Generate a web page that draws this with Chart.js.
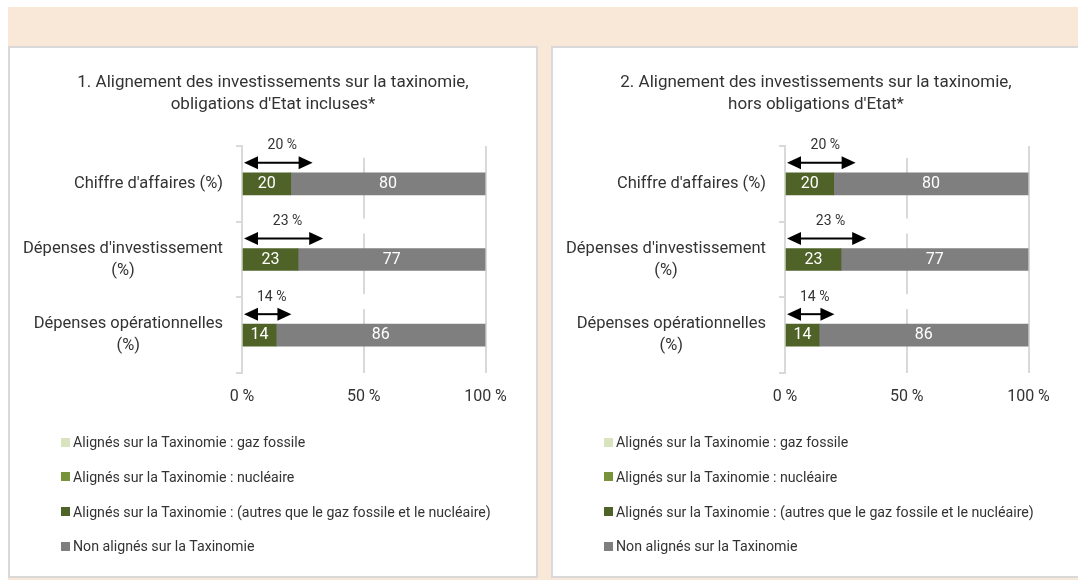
<!DOCTYPE html>
<html lang="fr">
<head>
<meta charset="utf-8">
<title>Alignement des investissements sur la taxinomie</title>
<script src="https://cdn.jsdelivr.net/npm/chart.js@4.4.1/dist/chart.umd.min.js"></script>
<style>
  html, body { margin: 0; padding: 0; background: #fff; }
  body { width: 1078px; height: 580px; position: relative; overflow: hidden;
         font-family: Roboto, "Liberation Sans", sans-serif; color: #333; }
  .band { position: absolute; left: 8px; top: 7px; right: 0; bottom: 0; background: #f9e8d8; }
  .panel { position: absolute; top: 46px; width: 530px; height: 532px; box-sizing: border-box;
           border: 2px solid #d9d9d9; background: #fff; }
  #panel1 { left: 8px; }
  #panel2 { left: 551px; }
  .panel canvas { position: absolute; left: 0; top: 0; }
  .title { position: absolute; left: 0; top: 22px; width: 526px; text-align: center;
           font-size: 17px; line-height: 22px; color: #333; }
  .legend { position: absolute; left: 51px; top: 377px; font-size: 14.2px; color: #333; }
  .legend .item { height: 34.67px; display: flex; align-items: center; white-space: nowrap; }
  .legend .box { width: 9px; height: 9px; margin-right: 3px; flex: none; }
</style>
</head>
<body>
<div class="band"></div>
<div class="panel" id="panel1">
  <canvas id="chart1" width="526" height="528"></canvas>
  <div class="title" id="title1"></div>
  <div class="legend" id="legend1"></div>
</div>
<div class="panel" id="panel2">
  <canvas id="chart2" width="526" height="528"></canvas>
  <div class="title" id="title2"></div>
  <div class="legend" id="legend2"></div>
</div>
<script>
const CATEGORIES = [
  ["Chiffre d'affaires (%)"],
  ["Dépenses d'investissement", '(%)'],
  ['Dépenses opérationnelles', '(%)']
];
const SERIES = [
  'Alignés sur la Taxinomie : gaz fossile',
  'Alignés sur la Taxinomie : nucléaire',
  'Alignés sur la Taxinomie : (autres que le gaz fossile et le nucléaire)',
  'Non alignés sur la Taxinomie'
];
const COLORS = ['#d7e4bd', '#77933c', '#4f6228', '#7f7f7f'];
const X_TICKS = [0, 50, 100];

// 1. obligations d'Etat incluses
const TITLE1 = ['1. Alignement des investissements sur la taxinomie,', "obligations d'Etat incluses*"];
const gas1 = [0, 0, 0];
const nuclear1 = [0, 0, 0];
const otherAligned1 = [20, 23, 14];
const notAligned1 = [80, 77, 86];

// 2. hors obligations d'Etat
const TITLE2 = ['2. Alignement des investissements sur la taxinomie,', "hors obligations d'Etat*"];
const gas2 = [0, 0, 0];
const nuclear2 = [0, 0, 0];
const otherAligned2 = [20, 23, 14];
const notAligned2 = [80, 77, 86];

const FONT = 'Roboto, "Liberation Sans", sans-serif';
const TEXT = '#333333';
const GRID = '#d9d9d9';
const ALIGNED_COUNT = 3;     // the first three series are the aligned ones
const ARROW_STRETCH = 1.45;  // arrows are drawn a bit longer than the share they flag
const HEAD = 14;

Chart.defaults.font.family = FONT;

// category names, each block right-aligned against the axis, lines centred inside it
const categoryLabels = {
  id: 'categoryLabels',
  afterDraw(chart) {
    const {ctx, chartArea, scales: {y}} = chart;
    ctx.save();
    ctx.font = '16.5px ' + FONT;
    ctx.fillStyle = TEXT;
    ctx.textAlign = 'center';
    ctx.textBaseline = 'middle';
    chart.data.labels.forEach((lines, i) => {
      const w = Math.max(...lines.map(l => ctx.measureText(l).width));
      const cx = chartArea.left - 19 - w / 2;
      const cy = y.getPixelForValue(i);
      lines.forEach((line, k) => ctx.fillText(line, cx, cy + (k - (lines.length - 1) / 2) * 22));
    });
    ctx.restore();
  }
};

// values written inside the bar segments
const barValues = {
  id: 'barValues',
  afterDatasetsDraw(chart) {
    const {ctx} = chart;
    ctx.save();
    ctx.font = '16px ' + FONT;
    ctx.fillStyle = '#fff';
    ctx.textAlign = 'center';
    ctx.textBaseline = 'middle';
    chart.data.datasets.forEach((ds, d) => {
      chart.getDatasetMeta(d).data.forEach((bar, i) => {
        if (!ds.data[i]) return;
        ctx.fillText(ds.data[i], (bar.x + bar.base) / 2, bar.y);
      });
    });
    ctx.restore();
  }
};

// double arrow + total aligned share above each bar
const alignedArrows = {
  id: 'alignedArrows',
  afterDatasetsDraw(chart) {
    const {ctx, chartArea, scales: {x, y}} = chart;
    const sets = chart.data.datasets.slice(0, ALIGNED_COUNT);
    ctx.save();
    chart.data.labels.forEach((_, i) => {
      const total = sets.reduce((s, ds) => s + ds.data[i], 0);
      const cy = y.getPixelForValue(i);
      const x0 = x.getPixelForValue(0) + 2;
      const x1 = x.getPixelForValue(total * ARROW_STRETCH);
      const ay = cy - 21;
      const ly = cy - 38;

      // white label box, it hides the gridline behind it
      ctx.fillStyle = '#fff';
      ctx.fillRect(chartArea.left + 8, ly - 3, x.getPixelForValue(50) + 8 - chartArea.left - 8, 15);

      ctx.strokeStyle = '#000';
      ctx.fillStyle = '#000';
      ctx.lineWidth = 2;
      ctx.beginPath();
      ctx.moveTo(x0 + HEAD - 1, ay);
      ctx.lineTo(x1 - HEAD + 1, ay);
      ctx.stroke();
      ctx.beginPath();
      ctx.moveTo(x0, ay);
      ctx.lineTo(x0 + HEAD, ay - 6.5);
      ctx.lineTo(x0 + HEAD, ay + 6.5);
      ctx.closePath();
      ctx.fill();
      ctx.beginPath();
      ctx.moveTo(x1, ay);
      ctx.lineTo(x1 - HEAD, ay - 6.5);
      ctx.lineTo(x1 - HEAD, ay + 6.5);
      ctx.closePath();
      ctx.fill();

      ctx.font = '14px ' + FONT;
      ctx.fillStyle = TEXT;
      ctx.textAlign = 'center';
      ctx.textBaseline = 'middle';
      ctx.fillText(total + ' %', (x0 + x1) / 2 + 4, ly);
    });
    ctx.restore();
  }
};

function makeChart(canvasId, titleId, legendId, title, gas, nuclear, otherAligned, notAligned) {
  const values = [gas, nuclear, otherAligned, notAligned];
  const datasets = SERIES.map((name, k) => ({
    label: name,
    data: values[k],
    backgroundColor: COLORS[k],
    barThickness: 22
  }));

  const chart = new Chart(document.getElementById(canvasId), {
    type: 'bar',
    data: { labels: CATEGORIES, datasets },
    options: {
      indexAxis: 'y',
      responsive: false,
      animation: false,
      layout: { padding: { left: 226, right: 50.5, top: 98, bottom: 155.8 } },
      plugins: {
        legend: { display: false },
        tooltip: { enabled: false }
      },
      scales: {
        x: {
          stacked: true,
          min: 0,
          max: 100,
          afterBuildTicks: s => { s.ticks = X_TICKS.map(v => ({ value: v })); },
          ticks: { callback: v => v + ' %', color: TEXT, font: { size: 16 }, padding: 14, maxRotation: 0 },
          grid: { color: GRID, lineWidth: 2, drawTicks: false },
          border: { display: false }
        },
        y: {
          stacked: true,
          ticks: { display: false },
          grid: { drawOnChartArea: false, drawTicks: true, tickLength: 6, color: GRID, lineWidth: 2 },
          border: { display: true, color: GRID, width: 2 }
        }
      }
    },
    plugins: [categoryLabels, barValues, alignedArrows]
  });

  const titleEl = document.getElementById(titleId);
  title.forEach(line => {
    const div = document.createElement('div');
    div.textContent = line;
    titleEl.appendChild(div);
  });

  document.getElementById(legendId).innerHTML = chart.data.datasets.map(ds =>
    `<div class="item"><span class="box" style="background:${ds.backgroundColor}"></span>${ds.label}</div>`
  ).join('');
  return chart;
}

makeChart('chart1', 'title1', 'legend1', TITLE1, gas1, nuclear1, otherAligned1, notAligned1);
makeChart('chart2', 'title2', 'legend2', TITLE2, gas2, nuclear2, otherAligned2, notAligned2);
</script>
</body>
</html>
